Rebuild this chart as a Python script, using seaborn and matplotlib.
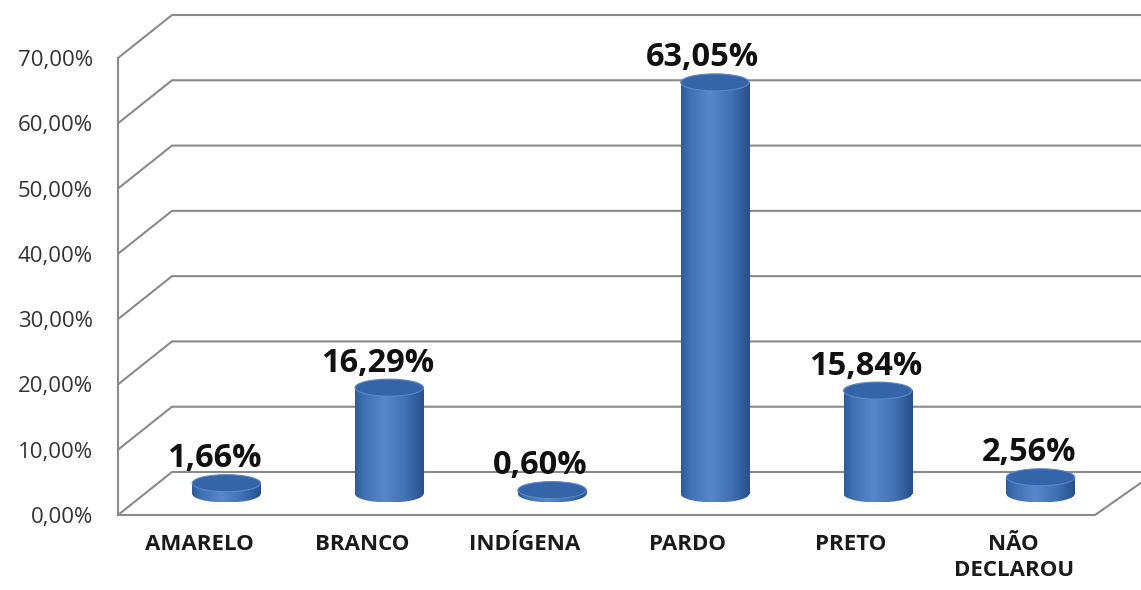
import numpy as np
import pandas as pd
import matplotlib
matplotlib.use('agg')
import seaborn as sns
import matplotlib.pyplot as plt
from matplotlib.colors import LinearSegmentedColormap
from matplotlib.patches import Ellipse
from matplotlib.transforms import ScaledTranslation

# dados
categorias = ["AMARELO", "BRANCO", "INDÍGENA", "PARDO", "PRETO", "NÃO\nDECLAROU"]
valores = [1.66, 16.29, 0.60, 63.05, 15.84, 2.56]
rotulos = ["1,66%", "16,29%", "0,60%", "63,05%", "15,84%", "2,56%"]
yticks = [0, 10, 20, 30, 40, 50, 60, 70]
ytick_labels = ["0,00%", "10,00%", "20,00%", "30,00%", "40,00%", "50,00%", "60,00%", "70,00%"]

sns.set_theme(style="white")
plt.rcParams['font.family'] = ['Open Sans', 'DejaVu Sans']

W, H = 1141, 590
fig = plt.figure(figsize=(W / 100, H / 100), dpi=100)
ax = fig.add_axes([118 / W, 75 / H, 977 / W, 457 / H])

df = pd.DataFrame({"cat": categorias, "val": valores})
sns.barplot(data=df, x="cat", y="val", ax=ax, width=0.42, color="#4a7cc0",
            saturation=1, zorder=3)

ppx = 977 / 6.0
ppy = 457 / 70.0
grey = "#8a8a8a"


def shift(dx, dy):
    return ax.transData + ScaledTranslation(dx / 100, dy / 100, fig.dpi_scale_trans)


bar_t = shift(27, 21)
bdx, bdy = 54 / ppx, 43 / ppy

# paredes / grade em "3D"
for v in yticks:
    ax.plot([-0.5, -0.5 + bdx, 7.5], [v, v + bdy, v + bdy], color=grey, lw=1.5,
            clip_on=False, zorder=1, solid_joinstyle='miter')
ax.plot([5.5, 5.5 + bdx], [0, bdy * 0.88], color=grey, lw=1.5, clip_on=False, zorder=1)

cyl = LinearSegmentedColormap.from_list("cyl", [
    (0.0, "#2f5c99"), (0.12, "#4070b3"), (0.42, "#5887cb"),
    (0.75, "#4070b1"), (1.0, "#28508c")])
grad = np.linspace(0, 1, 64).reshape(1, -1)
eh = 17 / ppy

for p, rot in zip(list(ax.patches), rotulos):
    x0, w, h = p.get_x(), p.get_width(), p.get_height()
    cx = x0 + w / 2
    p.set_transform(bar_t)
    p.set_linewidth(0)
    ax.imshow(grad, extent=(x0, x0 + w, 0, h), transform=bar_t, cmap=cyl,
              aspect='auto', zorder=3.1, interpolation='bilinear')
    base = Ellipse((cx, 0), w, eh, transform=bar_t, fc='none', ec='none')
    ax.add_patch(base)
    im = ax.imshow(grad, extent=(x0, x0 + w, -eh / 2, eh / 2), transform=bar_t,
                   cmap=cyl, aspect='auto', zorder=3.05, interpolation='bilinear')
    im.set_clip_path(base)
    ax.add_patch(Ellipse((cx, h), w, eh, transform=bar_t, fc="#3564a8",
                         ec="#5b88c6", lw=0.8, zorder=3.3))
    ax.annotate(rot, xy=(cx, h), xycoords=bar_t, xytext=(-12, 16),
                textcoords='offset pixels', ha='center', va='baseline',
                fontsize=23.5, fontweight='bold', color='#111111', zorder=5)

ax.set_xlim(-0.5, 5.5)
ax.set_ylim(0, 70)
ax.set_yticks(yticks, ytick_labels)
ax.set_xlabel("")
ax.set_ylabel("")
ax.tick_params(axis='y', length=0, pad=18, labelsize=16, labelcolor="#333333")
ax.tick_params(axis='x', length=0, pad=14, labelsize=16, labelcolor="#1a1a1a")
for lbl in ax.get_xticklabels():
    lbl.set_fontweight('bold')
    lbl.set_linespacing(1.3)

for s in ["top", "right"]:
    ax.spines[s].set_visible(False)
for s in ["left", "bottom"]:
    ax.spines[s].set_color(grey)
    ax.spines[s].set_linewidth(1.5)
ax.patch.set_alpha(0)

fig.savefig("out.png", dpi=100)
